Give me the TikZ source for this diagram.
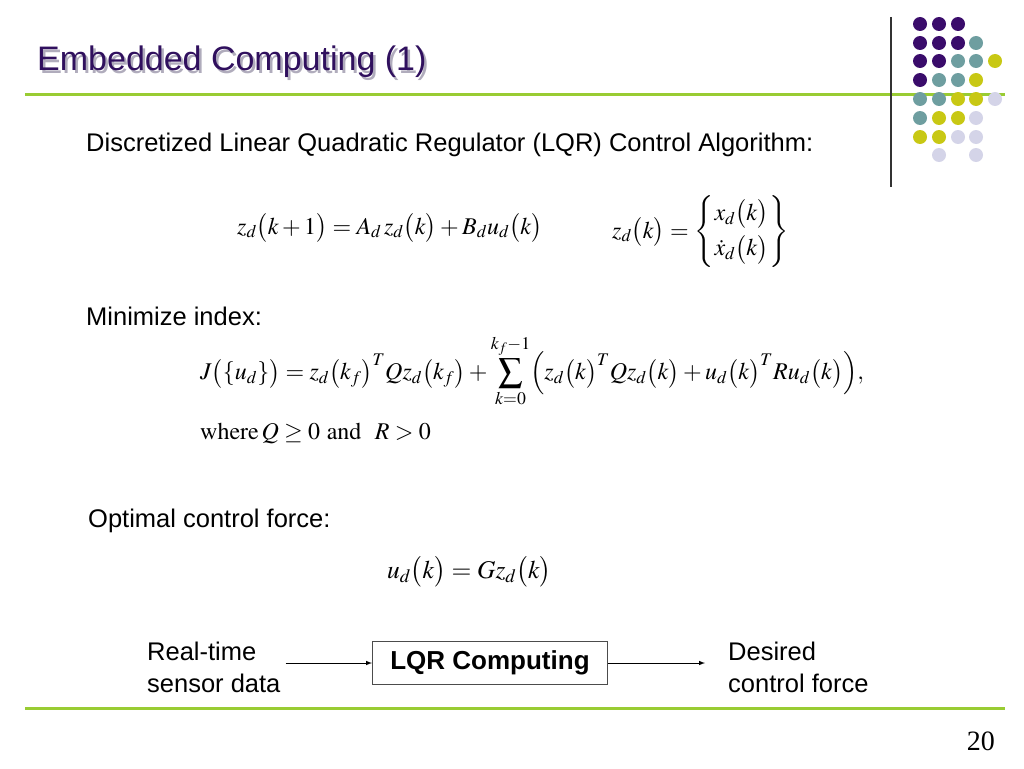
\documentclass[tikz,border=0pt]{standalone}
\usepackage{mathptmx}
\usepackage[no-math]{fontspec}
\setmainfont{Liberation Sans}
\newfontfamily\numfont{Liberation Serif}
\usetikzlibrary{positioning}

\tikzstyle{dot}=[circle, inner sep=0pt, minimum size=14pt]
\tikzstyle{body-text}=[anchor=west, inner sep=0pt, font=\fontsize{25.5}{32}\selectfont]
\tikzstyle{eq}=[anchor=west, inner sep=0pt, font=\fontsize{24}{28}\selectfont]
\tikzstyle{rule}=[line width=3pt, draw=rulegreen]
\definecolor{rulegreen}{HTML}{99CC33}
\definecolor{titlecol}{HTML}{30105E}
\definecolor{shadowcol}{HTML}{B0ACBC}
\definecolor{dot1}{HTML}{3A0C6B}
\definecolor{dot2}{HTML}{6E9EA0}
\definecolor{dot3}{HTML}{C8C814}
\definecolor{dot4}{HTML}{D4D4E8}

\begin{document}
\begin{tikzpicture}[x=1pt, y=-1pt]
      \useasboundingbox (0, 0) rectangle (1024, 768);
      % title with its shadow
      \node (title-shadow) at (39.5, 64.5) [anchor=west, inner sep=0pt, text=shadowcol,
            font=\fontsize{34}{38}\selectfont] {Embedded Computing (1)};
      \node (title) at (37, 62) [anchor=west, inner sep=0pt, text=titlecol,
            font=\fontsize{34}{38}\selectfont] {Embedded Computing (1)};
      \draw [rule] (25, 94) -- (1005, 94);
      \draw [line width=1.2pt, draw=black!80] (891, 17) -- (891, 187);
      % dot grid
      \node (dot11) at (920, 24) [dot, fill=dot1] {};
      \node (dot12) at (939, 24) [dot, fill=dot1] {};
      \node (dot13) at (958, 24) [dot, fill=dot1] {};
      \node (dot21) at (920, 43) [dot, fill=dot1] {};
      \node (dot22) at (939, 43) [dot, fill=dot1] {};
      \node (dot23) at (958, 43) [dot, fill=dot1] {};
      \node (dot24) at (976, 43) [dot, fill=dot2] {};
      \node (dot31) at (920, 61) [dot, fill=dot1] {};
      \node (dot32) at (939, 61) [dot, fill=dot1] {};
      \node (dot33) at (958, 61) [dot, fill=dot2] {};
      \node (dot34) at (976, 61) [dot, fill=dot2] {};
      \node (dot35) at (995, 61) [dot, fill=dot3] {};
      \node (dot41) at (920, 80) [dot, fill=dot1] {};
      \node (dot42) at (939, 80) [dot, fill=dot2] {};
      \node (dot43) at (958, 80) [dot, fill=dot2] {};
      \node (dot44) at (976, 80) [dot, fill=dot3] {};
      \node (dot51) at (920, 99) [dot, fill=dot2] {};
      \node (dot52) at (939, 99) [dot, fill=dot2] {};
      \node (dot53) at (958, 99) [dot, fill=dot3] {};
      \node (dot54) at (976, 99) [dot, fill=dot3] {};
      \node (dot55) at (995, 99) [dot, fill=dot4] {};
      \node (dot61) at (920, 118) [dot, fill=dot2] {};
      \node (dot62) at (939, 118) [dot, fill=dot3] {};
      \node (dot63) at (958, 118) [dot, fill=dot3] {};
      \node (dot64) at (976, 118) [dot, fill=dot4] {};
      \node (dot71) at (920, 137) [dot, fill=dot3] {};
      \node (dot72) at (939, 137) [dot, fill=dot3] {};
      \node (dot73) at (958, 137) [dot, fill=dot4] {};
      \node (dot74) at (976, 137) [dot, fill=dot4] {};
      \node (dot82) at (939, 155) [dot, fill=dot4] {};
      \node (dot84) at (976, 155) [dot, fill=dot4] {};
      % text and equations
      \node (algorithm) at (86, 145) [body-text]
            {Discretized Linear Quadratic Regulator (LQR) Control Algorithm:};
      \node (state-eq) at (237, 228) [eq]
            {$z_d\bigl(k+1\bigr)=A_d\,z_d\bigl(k\bigr)+B_d u_d\bigl(k\bigr)$};
      \node (state-vec) at (612, 232) [eq]
            {$z_d\bigl(k\bigr)=\left\{\arraycolsep=1pt\begin{array}{c} x_d\bigl(k\bigr)\\[7pt] \dot{x}_d\bigl(k\bigr)\end{array}\right\}$};
      \node (minimize) at (86, 316) [body-text] {Minimize index:};
      \node (cost) at (200, 371) [eq]
            {$\displaystyle J\bigl(\{u_d\}\bigr)=z_d\bigl(k_f\bigr)^T Qz_d\bigl(k_f\bigr)+\sum_{k=0}^{k_f-1}\Bigl(z_d\bigl(k\bigr)^T Qz_d\bigl(k\bigr)+u_d\bigl(k\bigr)^T Ru_d\bigl(k\bigr)\Bigr),$};
      \node (weights) at (200, 433) [eq]
            {$\mathrm{where}\,Q\geq 0\ \mathrm{and}\ \ R>0$};
      \node (optimal) at (88, 521) [body-text] {Optimal control force:};
      \node (gain) at (387, 572) [eq, font=\fontsize{25.5}{28}\selectfont]
            {$u_d\bigl(k\bigr)=Gz_d\bigl(k\bigr)$};
      % flow at the bottom
      \node (sensor) at (147, 667) [body-text, align=left] {Real-time\\sensor data};
      \node (lqr) at (490, 663) [draw=black!70, line width=1pt, minimum width=235pt,
            minimum height=43pt, font=\fontsize{26}{30}\selectfont\bfseries] {LQR Computing};
      \node (force) at (728, 667) [body-text, align=left] {Desired\\control force};
      \draw [-latex, line width=1pt] (sensor.east) ++(5, -4) -- (lqr.west);
      \draw [-latex, line width=1pt] (lqr) -- (705, 663);
      \draw [rule] (25, 708) -- (1005, 708);
      \node (page) at (995, 741) [anchor=east, inner sep=0pt,
            font=\fontsize{28}{32}\numfont] {20};
\end{tikzpicture}
\end{document}
